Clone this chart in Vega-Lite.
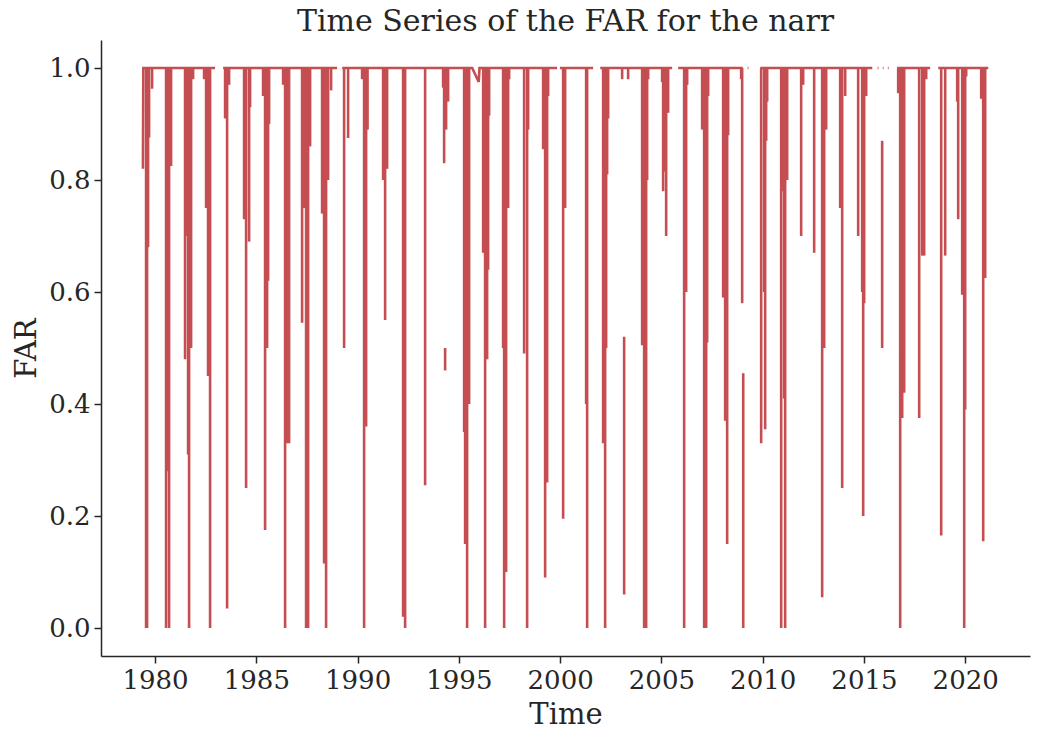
{
  "$schema": "https://vega.github.io/schema/vega-lite/v6.json",
  "width": 929,
  "height": 616,
  "autosize": {"type": "none"},
  "padding": {"left": 101, "top": 40, "right": 10, "bottom": 84},
  "background": "white",
  "title": {"text": "Time Series of the FAR for the narr", "fontSize": 30, "font": "DejaVu Serif", "fontWeight": "normal", "color": "#262626", "offset": 3, "anchor": "middle"},
  "config": {
    "view": {"stroke": null},
    "axis": {"labelFont": "DejaVu Serif", "titleFont": "DejaVu Serif", "labelFontSize": 26, "titleFontSize": 29, "titleFontWeight": "normal", "labelColor": "#262626", "titleColor": "#262626", "domainColor": "#262626", "tickColor": "#262626", "domainWidth": 1.5, "tickWidth": 1.5, "tickSize": 7, "grid": false, "labelFlush": false}
  },
  "datasets": {
    "top": [
      {"s": "A", "t": 1979.40, "far": 0.82}, {"s": "A", "t": 1979.42, "far": 1}, {"s": "A", "t": 1982.96, "far": 1},
      {"s": "B", "t": 1983.36, "far": 1}, {"s": "B", "t": 1988.99, "far": 1},
      {"s": "C", "t": 1989.24, "far": 1}, {"s": "C", "t": 1995.66, "far": 1}, {"s": "C", "t": 1995.98, "far": 0.975}, {"s": "C", "t": 1996.02, "far": 1}, {"s": "C", "t": 1999.85, "far": 1},
      {"s": "D", "t": 1999.99, "far": 1}, {"s": "D", "t": 2001.63, "far": 1},
      {"s": "E", "t": 2001.98, "far": 1}, {"s": "E", "t": 2005.53, "far": 1},
      {"s": "F", "t": 2005.83, "far": 1}, {"s": "F", "t": 2009.02, "far": 1},
      {"s": "G", "t": 2009.26, "far": 1}, {"s": "G", "t": 2009.30, "far": 1},
      {"s": "H", "t": 2009.88, "far": 1}, {"s": "H", "t": 2015.41, "far": 1},
      {"s": "I", "t": 2015.68, "far": 1}, {"s": "I", "t": 2015.72, "far": 1},
      {"s": "J", "t": 2015.93, "far": 1}, {"s": "J", "t": 2015.97, "far": 1},
      {"s": "K", "t": 2016.18, "far": 1}, {"s": "K", "t": 2016.22, "far": 1},
      {"s": "L", "t": 2016.64, "far": 1}, {"s": "L", "t": 2018.27, "far": 1},
      {"s": "M", "t": 2018.67, "far": 1}, {"s": "M", "t": 2021.14, "far": 1}
    ],
    "dips": [
      {"t": 1979.556, "lo": 0, "hi": 1}, {"t": 1979.605, "lo": 0, "hi": 1}, {"t": 1979.654, "lo": 0.68, "hi": 1}, {"t": 1979.704, "lo": 0.876, "hi": 1}, {"t": 1979.852, "lo": 0.963, "hi": 1},
      {"t": 1980.543, "lo": 0, "hi": 1}, {"t": 1980.642, "lo": 0.28, "hi": 1}, {"t": 1980.691, "lo": 0, "hi": 1}, {"t": 1980.790, "lo": 0.825, "hi": 1},
      {"t": 1981.481, "lo": 0.48, "hi": 1}, {"t": 1981.580, "lo": 0.7, "hi": 1}, {"t": 1981.630, "lo": 0.31, "hi": 1}, {"t": 1981.679, "lo": 0, "hi": 1}, {"t": 1981.778, "lo": 0.5, "hi": 1}, {"t": 1981.877, "lo": 0.98, "hi": 1},
      {"t": 1982.420, "lo": 0.98, "hi": 1}, {"t": 1982.519, "lo": 0.75, "hi": 1}, {"t": 1982.617, "lo": 0.45, "hi": 1}, {"t": 1982.716, "lo": 0, "hi": 1},
      {"t": 1983.457, "lo": 0.91, "hi": 1}, {"t": 1983.556, "lo": 0.035, "hi": 1}, {"t": 1983.654, "lo": 0.97, "hi": 1},
      {"t": 1984.395, "lo": 0.73, "hi": 1}, {"t": 1984.494, "lo": 0.25, "hi": 1}, {"t": 1984.642, "lo": 0.69, "hi": 1}, {"t": 1984.691, "lo": 0.93, "hi": 1},
      {"t": 1985.333, "lo": 0.95, "hi": 1}, {"t": 1985.432, "lo": 0.175, "hi": 1}, {"t": 1985.531, "lo": 0.5, "hi": 1}, {"t": 1985.580, "lo": 0.62, "hi": 1}, {"t": 1985.630, "lo": 0.9, "hi": 1},
      {"t": 1986.321, "lo": 0.97, "hi": 1}, {"t": 1986.420, "lo": 0, "hi": 1}, {"t": 1986.519, "lo": 0.33, "hi": 1}, {"t": 1986.617, "lo": 0.33, "hi": 1},
      {"t": 1987.259, "lo": 0.545, "hi": 1}, {"t": 1987.358, "lo": 0.75, "hi": 1}, {"t": 1987.457, "lo": 0, "hi": 1}, {"t": 1987.556, "lo": 0, "hi": 1}, {"t": 1987.654, "lo": 0.86, "hi": 1},
      {"t": 1988.247, "lo": 0.74, "hi": 1}, {"t": 1988.346, "lo": 0.115, "hi": 1}, {"t": 1988.444, "lo": 0, "hi": 1}, {"t": 1988.543, "lo": 0.8, "hi": 1}, {"t": 1988.691, "lo": 0.96, "hi": 1},
      {"t": 1989.333, "lo": 0.5, "hi": 1}, {"t": 1989.531, "lo": 0.875, "hi": 1},
      {"t": 1990.222, "lo": 0.98, "hi": 1}, {"t": 1990.321, "lo": 0, "hi": 1}, {"t": 1990.420, "lo": 0.36, "hi": 1}, {"t": 1990.490, "lo": 0.89, "hi": 1},
      {"t": 1991.259, "lo": 0.8, "hi": 1}, {"t": 1991.358, "lo": 0.55, "hi": 1}, {"t": 1991.457, "lo": 0.82, "hi": 1},
      {"t": 1992.247, "lo": 0.02, "hi": 1}, {"t": 1992.346, "lo": 0, "hi": 1},
      {"t": 1993.333, "lo": 0.255, "hi": 1},
      {"t": 1994.222, "lo": 0.965, "hi": 1}, {"t": 1994.272, "lo": 0.83, "hi": 1}, {"t": 1994.321, "lo": 0.46, "hi": 0.5}, {"t": 1994.370, "lo": 0.89, "hi": 1}, {"t": 1994.469, "lo": 0.94, "hi": 1},
      {"t": 1995.259, "lo": 0.35, "hi": 1}, {"t": 1995.309, "lo": 0.15, "hi": 1}, {"t": 1995.407, "lo": 0, "hi": 1}, {"t": 1995.506, "lo": 0.4, "hi": 1},
      {"t": 1996.198, "lo": 0.67, "hi": 1}, {"t": 1996.296, "lo": 0, "hi": 1}, {"t": 1996.395, "lo": 0.48, "hi": 1}, {"t": 1996.444, "lo": 0.64, "hi": 1}, {"t": 1996.494, "lo": 0.915, "hi": 1},
      {"t": 1997.185, "lo": 0.5, "hi": 1}, {"t": 1997.235, "lo": 0, "hi": 1}, {"t": 1997.333, "lo": 0.1, "hi": 1}, {"t": 1997.432, "lo": 0.75, "hi": 1}, {"t": 1997.481, "lo": 0.98, "hi": 1},
      {"t": 1998.222, "lo": 0.49, "hi": 1}, {"t": 1998.370, "lo": 0, "hi": 1}, {"t": 1998.420, "lo": 0.89, "hi": 1},
      {"t": 1999.160, "lo": 0.855, "hi": 1}, {"t": 1999.259, "lo": 0.09, "hi": 1}, {"t": 1999.358, "lo": 0.26, "hi": 1}, {"t": 1999.407, "lo": 0.95, "hi": 1},
      {"t": 2000.148, "lo": 0.195, "hi": 1}, {"t": 2000.247, "lo": 0.75, "hi": 1},
      {"t": 2001.284, "lo": 0.4, "hi": 1}, {"t": 2001.333, "lo": 0, "hi": 1},
      {"t": 2002.123, "lo": 0.33, "hi": 1}, {"t": 2002.173, "lo": 0.415, "hi": 1}, {"t": 2002.222, "lo": 0, "hi": 1}, {"t": 2002.272, "lo": 0.5, "hi": 1}, {"t": 2002.321, "lo": 0.81, "hi": 1}, {"t": 2002.370, "lo": 0.91, "hi": 1},
      {"t": 2003.062, "lo": 0.98, "hi": 1}, {"t": 2003.160, "lo": 0.06, "hi": 0.52}, {"t": 2003.358, "lo": 0.98, "hi": 1},
      {"t": 2004.049, "lo": 0.505, "hi": 1}, {"t": 2004.148, "lo": 0, "hi": 1}, {"t": 2004.247, "lo": 0, "hi": 1}, {"t": 2004.296, "lo": 0.8, "hi": 1}, {"t": 2004.346, "lo": 0.98, "hi": 1},
      {"t": 2005.037, "lo": 0.975, "hi": 1}, {"t": 2005.086, "lo": 0.78, "hi": 1}, {"t": 2005.136, "lo": 0.815, "hi": 1}, {"t": 2005.235, "lo": 0.7, "hi": 1}, {"t": 2005.333, "lo": 0.92, "hi": 1},
      {"t": 2006.123, "lo": 0, "hi": 1}, {"t": 2006.222, "lo": 0.6, "hi": 1}, {"t": 2006.272, "lo": 0.97, "hi": 1},
      {"t": 2007.012, "lo": 0.89, "hi": 1}, {"t": 2007.111, "lo": 0, "hi": 1}, {"t": 2007.210, "lo": 0, "hi": 1}, {"t": 2007.259, "lo": 0.51, "hi": 1}, {"t": 2007.309, "lo": 0.95, "hi": 1},
      {"t": 2008.049, "lo": 0.59, "hi": 1}, {"t": 2008.148, "lo": 0.37, "hi": 1}, {"t": 2008.247, "lo": 0.15, "hi": 1}, {"t": 2008.296, "lo": 0.88, "hi": 1},
      {"t": 2008.938, "lo": 0.98, "hi": 1}, {"t": 2008.988, "lo": 0.58, "hi": 1}, {"t": 2009.040, "lo": 0, "hi": 0.455},
      {"t": 2009.926, "lo": 0.33, "hi": 1}, {"t": 2010.074, "lo": 0.6, "hi": 1}, {"t": 2010.123, "lo": 0.355, "hi": 1}, {"t": 2010.173, "lo": 0.87, "hi": 1}, {"t": 2010.222, "lo": 0.94, "hi": 1},
      {"t": 2010.914, "lo": 0, "hi": 1}, {"t": 2011.012, "lo": 0.78, "hi": 1}, {"t": 2011.062, "lo": 0.41, "hi": 1}, {"t": 2011.111, "lo": 0, "hi": 1}, {"t": 2011.210, "lo": 0.8, "hi": 1},
      {"t": 2011.901, "lo": 0.7, "hi": 1}, {"t": 2012.000, "lo": 0.97, "hi": 1}, {"t": 2012.543, "lo": 0.67, "hi": 1},
      {"t": 2012.938, "lo": 0.055, "hi": 1}, {"t": 2013.037, "lo": 0.5, "hi": 1}, {"t": 2013.136, "lo": 0.89, "hi": 1},
      {"t": 2013.827, "lo": 0.75, "hi": 1}, {"t": 2013.926, "lo": 0.25, "hi": 1}, {"t": 2014.074, "lo": 0.95, "hi": 1},
      {"t": 2014.716, "lo": 0.7, "hi": 1}, {"t": 2014.914, "lo": 0.6, "hi": 1}, {"t": 2014.963, "lo": 0.2, "hi": 1}, {"t": 2015.012, "lo": 0.58, "hi": 1}, {"t": 2015.111, "lo": 0.95, "hi": 1},
      {"t": 2015.900, "lo": 0.5, "hi": 0.87},
      {"t": 2016.691, "lo": 0.955, "hi": 1}, {"t": 2016.790, "lo": 0, "hi": 1}, {"t": 2016.889, "lo": 0.375, "hi": 1}, {"t": 2016.938, "lo": 0.48, "hi": 1}, {"t": 2016.988, "lo": 0.42, "hi": 1},
      {"t": 2017.728, "lo": 0.375, "hi": 1}, {"t": 2017.877, "lo": 0.665, "hi": 1}, {"t": 2017.975, "lo": 0.665, "hi": 1}, {"t": 2018.074, "lo": 0.98, "hi": 1},
      {"t": 2018.815, "lo": 0.165, "hi": 1}, {"t": 2019.012, "lo": 0.665, "hi": 1},
      {"t": 2019.605, "lo": 0.94, "hi": 1}, {"t": 2019.654, "lo": 0.73, "hi": 1}, {"t": 2019.852, "lo": 0.595, "hi": 1}, {"t": 2019.951, "lo": 0, "hi": 1}, {"t": 2020.000, "lo": 0.39, "hi": 1}, {"t": 2020.049, "lo": 0.985, "hi": 1},
      {"t": 2020.790, "lo": 0.945, "hi": 1}, {"t": 2020.889, "lo": 0.155, "hi": 1}, {"t": 2020.938, "lo": 0.96, "hi": 1}, {"t": 2020.988, "lo": 0.625, "hi": 1}
    ]
  },
  "layer": [
    {
      "data": {"name": "top"},
      "mark": {"type": "line", "color": "#c44e52", "strokeWidth": 2.6},
      "encoding": {
        "x": {"field": "t", "type": "quantitative", "scale": {"domain": [1977.33, 2023.2], "nice": false, "zero": false},
              "axis": {"title": "Time", "values": [1980, 1985, 1990, 1995, 2000, 2005, 2010, 2015, 2020], "format": "d", "labelPadding": 4, "titlePadding": 7}},
        "y": {"field": "far", "type": "quantitative", "scale": {"domain": [-0.05, 1.05], "nice": false, "zero": false},
              "axis": {"title": "FAR", "values": [0, 0.2, 0.4, 0.6, 0.8, 1.0], "format": ".1f", "labelPadding": 4, "titlePadding": 7}},
        "detail": {"field": "s"}
      }
    },
    {
      "data": {"name": "dips"},
      "mark": {"type": "rule", "color": "#c44e52", "strokeWidth": 2.6},
      "encoding": {
        "x": {"field": "t", "type": "quantitative"},
        "y": {"field": "lo", "type": "quantitative"},
        "y2": {"field": "hi"}
      }
    }
  ]
}
